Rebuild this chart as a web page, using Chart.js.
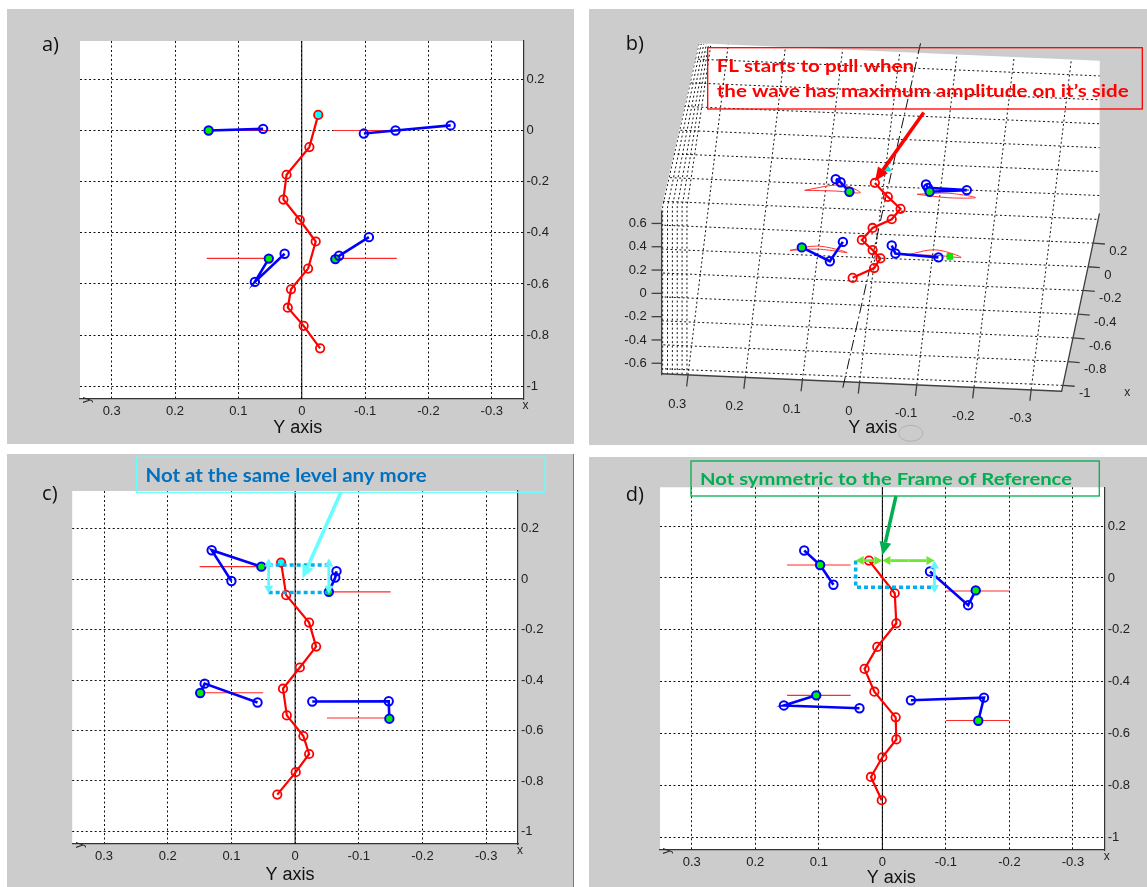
<!DOCTYPE html>
<html><head><meta charset="utf-8">
<script src="https://cdn.jsdelivr.net/npm/chart.js"></script>
<style>
html,body{margin:0;padding:0;background:#fff;width:1147px;height:887px;overflow:hidden;}
.panel{position:absolute;background:#cccccc;}
canvas{display:block;}
</style></head><body>
<div class="panel" style="left:7px;top:9px;width:567px;height:435px"><canvas id="ca"></canvas></div>
<div class="panel" style="left:589px;top:9px;width:558px;height:436px"><canvas id="cb"></canvas></div>
<div class="panel" style="left:7px;top:454px;width:567px;height:433px;box-shadow:inset -1px 0 0 #7a7a7a"><canvas id="cc"></canvas></div>
<div class="panel" style="left:589px;top:457px;width:558px;height:430px"><canvas id="cd"></canvas></div>
<script>
// ---------- shared tick values ----------
const LAT_TICKS = [0.3, 0.2, 0.1, 0, -0.1, -0.2, -0.3];     // horizontal "Y axis"
const LON_TICKS = [0.2, 0, -0.2, -0.4, -0.6, -0.8, -1];      // right-hand axis

// ---------- panel a : [lateral, longitudinal] ----------
const A_SPINE = [[-0.026,0.061],[-0.012,-0.065],[0.024,-0.173],[0.029,-0.270],[0.003,-0.350],[-0.022,-0.434],[-0.010,-0.540],[0.017,-0.621],[0.022,-0.693],[-0.003,-0.764],[-0.029,-0.852]];
const A_LEG_FL = [[0.147,0.000],[0.061,0.0065]];
const A_LEG_FR = [[-0.098,-0.012],[-0.148,0.000],[-0.235,0.020]];
const A_LEG_RL = [[0.052,-0.501],[0.074,-0.592],[0.027,-0.482]];
const A_LEG_RR = [[-0.053,-0.503],[-0.059,-0.490],[-0.106,-0.417]];
const A_GREEN = [0, -1, 0, 0];
const A_REFS = [[0.15,0.05,0],[-0.05,-0.15,0],[0.15,0.05,-0.5],[-0.05,-0.15,-0.5]];   // [from, to, level]

// ---------- panel c ----------
const C_SPINE = [[0.022,0.066],[0.014,-0.063],[-0.022,-0.172],[-0.033,-0.267],[-0.0075,-0.350],[0.019,-0.434],[0.013,-0.540],[-0.013,-0.622],[-0.022,-0.693],[-0.001,-0.765],[0.028,-0.854]];
const C_LEG_FL = [[0.053,0.050],[0.131,0.115],[0.100,-0.007]];
const C_LEG_FR = [[-0.053,-0.050],[-0.063,0.007],[-0.065,0.032]];
const C_LEG_RL = [[0.149,-0.451],[0.142,-0.414],[0.059,-0.489]];
const C_LEG_RR = [[-0.148,-0.553],[-0.147,-0.484],[-0.027,-0.485]];
const C_GREEN = [0, 0, 0, 0];
const C_REFS = [[0.15,0.05,0.05],[-0.05,-0.15,-0.05],[0.15,0.05,-0.45],[-0.05,-0.15,-0.55]];

// ---------- panel d ----------
const D_SPINE = [[0.021,0.067],[-0.0195,-0.059],[-0.022,-0.175],[0.008,-0.266],[0.028,-0.351],[0.0126,-0.439],[-0.021,-0.538],[-0.022,-0.623],[0.000,-0.692],[0.018,-0.768],[0.001,-0.858]];
const D_LEG_FL = [[0.123,0.106],[0.098,0.050],[0.077,-0.026]];
const D_LEG_FR = [[-0.075,0.025],[-0.135,-0.105],[-0.147,-0.048]];
const D_LEG_RL = [[0.104,-0.453],[0.155,-0.492],[0.036,-0.503]];
const D_LEG_RR = [[-0.045,-0.472],[-0.160,-0.462],[-0.151,-0.551]];
const D_GREEN = [1, 2, 0, 2];
const D_REFS = [[0.15,0.05,0.05],[-0.1,-0.2,-0.05],[0.15,0.05,-0.453],[-0.1,-0.2,-0.55]];

// ---------- panel b (3-D view, values in the view's own units) ----------
const B_LAT_TICKS = [0.3, 0.2, 0.1, 0, -0.1, -0.2, -0.3];
const B_LON_TICKS = [0.2, 0, -0.2, -0.4, -0.6, -0.8, -1];
const B_Z_TICKS = [0.6, 0.4, 0.2, 0, -0.2, -0.4, -0.6];
const B_FLOOR_ROWS = [-1, -0.8, -0.6, -0.4, -0.2, 0, 0.2, 0.4, 0.6, 0.8, 1.0, 1.2, 1.4, 1.6];
const B_SPINE = [[-0.0255,0.570],[-0.0482,0.453],[-0.0704,0.353],[-0.055,0.265],[-0.0215,0.192],[-0.0027,0.091],[-0.0215,0.0065],[-0.0352,-0.064],[-0.0243,-0.145],[0.0133,-0.227]];
const B_HEAD = [[-0.0455,0.692]];
const B_LEG_FL = [[0.0429,0.602],[0.0344,0.576],[0.0190,0.496]];
const B_LEG_FR = [[-0.1149,0.557],[-0.1183,0.529],[-0.1862,0.510],[-0.1212,0.496]];
const B_LEG_RL = [[0.1022,0.0286],[0.0532,-0.088],[0.0304,0.075]];
const B_LEG_RR = [[-0.055,0.045],[-0.0614,-0.0229],[-0.1366,-0.0555]];
const B_GREEN = [2, 3, 0, -1];
const B_PIVOT_RR = [[-0.1566,-0.0473]];
const B_ARC_FL = [[0.0971,0.508],[0.0685,0.535],[0.0429,0.552],[0.0207,0.540],[0.0002,0.488],[0.0429,0.502],[0.0971,0.508]];
const B_ARC_FR = [[-0.0995,0.475],[-0.1537,0.484],[-0.2015,0.447],[-0.1537,0.446],[-0.0995,0.475]];
const B_ARC_RL = [[0.1227,0.004],[0.0742,0.040],[0.0229,-0.015],[0.0742,0.014],[0.1227,0.004]];
const B_ARC_RR = [[-0.0797,-0.037],[-0.131,0.008],[-0.1764,-0.0555],[-0.131,-0.038],[-0.0797,-0.037]];

// ---------- helpers ----------
Chart.defaults.font.family = 'Liberation Sans';
const fmt = v => (Math.abs(v) < 1e-9 ? '0' : String(+Number(v).toFixed(1)));
const pts = a => a.map(p => ({x: p[0], y: p[1]}));
const CLEAR = 'rgba(0,0,0,0)';

function arrow(ctx, x1, y1, x2, y2, color, w, hl, hw) {
  const a = Math.atan2(y2 - y1, x2 - x1);
  const bx = x2 - hl * Math.cos(a), by = y2 - hl * Math.sin(a);
  ctx.save(); ctx.strokeStyle = color; ctx.fillStyle = color; ctx.lineWidth = w; ctx.setLineDash([]);
  ctx.beginPath(); ctx.moveTo(x1, y1); ctx.lineTo(bx, by); ctx.stroke();
  ctx.beginPath(); ctx.moveTo(x2, y2);
  ctx.lineTo(bx + hw / 2 * Math.sin(a), by - hw / 2 * Math.cos(a));
  ctx.lineTo(bx - hw / 2 * Math.sin(a), by + hw / 2 * Math.cos(a));
  ctx.closePath(); ctx.fill(); ctx.restore();
}
function dblArrow(ctx, x1, y1, x2, y2, color, w, hl, hw) {
  const mx = (x1 + x2) / 2, my = (y1 + y2) / 2;
  arrow(ctx, mx, my, x1, y1, color, w, hl, hw);
  arrow(ctx, mx, my, x2, y2, color, w, hl, hw);
}
function fitText(ctx, text, x, y, font, color, scale) {
  ctx.save(); ctx.font = font; ctx.fillStyle = color; ctx.textAlign = 'left'; ctx.textBaseline = 'alphabetic';
  ctx.translate(x, y); ctx.scale(scale, 1); ctx.fillText(text, 0, 0); ctx.restore();
}
function scaleFor(ctx, text, font, target) { ctx.save(); ctx.font = font; const w = ctx.measureText(text).width; ctx.restore(); return target / w; }
function panelLabel(ctx, t, x, y) {
  ctx.save(); ctx.font = '20px "Open Sans"'; ctx.fillStyle = '#111'; ctx.textAlign = 'center'; ctx.textBaseline = 'middle';
  ctx.fillText(t, x, y); ctx.restore();
}
function dotted(ctx, pts2, color, w, dash) {
  ctx.save(); ctx.strokeStyle = color; ctx.lineWidth = w; ctx.setLineDash(dash);
  ctx.beginPath(); pts2.forEach((p, i) => i ? ctx.lineTo(p[0], p[1]) : ctx.moveTo(p[0], p[1])); ctx.stroke(); ctx.restore();
}

// ---------- 2-D panels ----------
function make2D(id, W, H, area, spine, cyanIdx, legs, greens, refs, lab, titleDX, titleDY, annot) {
  const cv = document.getElementById(id); cv.width = W; cv.height = H;
  const ds = [];
  ds.push({data: pts(spine), showLine: true, borderColor: '#ff0000', borderWidth: 2.2, pointRadius: 4.2,
    pointBorderWidth: 1.8, pointBorderColor: '#ff0000',
    pointBackgroundColor: spine.map((p, i) => i === cyanIdx ? '#00ffff' : CLEAR)});
  legs.forEach((leg, k) => ds.push({data: pts(leg), showLine: true, borderColor: '#0000ff', borderWidth: 2.6,
    pointRadius: 4.2, pointBorderWidth: 2, pointBorderColor: '#0000ff',
    pointBackgroundColor: leg.map((p, i) => i === greens[k] ? '#00ee00' : CLEAR)}));
  refs.forEach(r => ds.push({data: [{x: r[0], y: r[2]}, {x: r[1], y: r[2]}], showLine: true,
    borderColor: '#ff2a2a', borderWidth: 1.1, pointRadius: 0}));
  new Chart(cv, {
    type: 'scatter', data: {datasets: ds},
    options: {
      responsive: false, animation: false, events: [],
      layout: {padding: {left: area.l, top: area.t, right: 0, bottom: 0}},
      plugins: {legend: {display: false}, tooltip: {enabled: false}},
      scales: {
        x: {type: 'linear', reverse: true, min: -0.35, max: 0.35,
          afterBuildTicks: s => { s.ticks = LAT_TICKS.map(v => ({value: v})); },
          afterFit: s => { s.height = H - area.b; },
          ticks: {callback: fmt, autoSkip: false, maxRotation: 0, padding: 5, color: '#222', font: {size: 13}},
          grid: {color: '#111', lineWidth: 1, drawTicks: false},
          border: {display: true, color: '#333', width: 1.2, dash: [2, 2.5]}},
        y: {type: 'linear', position: 'right', min: -1.05, max: 0.35,
          afterBuildTicks: s => { s.ticks = LON_TICKS.map(v => ({value: v})); },
          afterFit: s => { s.width = W - area.r; },
          ticks: {callback: fmt, autoSkip: false, padding: 3, color: '#222', font: {size: 13}},
          grid: {color: '#111', lineWidth: 1, drawTicks: false},
          border: {display: true, color: '#333', width: 1.2, dash: [2, 2.5]}}
      }
    },
    plugins: [{
      id: 'deco',
      beforeDraw(c) { const {ctx, chartArea: a} = c; ctx.save(); ctx.fillStyle = '#fff';
        ctx.fillRect(a.left, a.top, a.right - a.left, a.bottom - a.top); ctx.restore(); },
      beforeDatasetsDraw(c) { const {ctx, chartArea: a} = c; const x0 = c.scales.x.getPixelForValue(0);
        ctx.save(); ctx.strokeStyle = '#000'; ctx.lineWidth = 1; ctx.beginPath(); ctx.moveTo(x0, a.top); ctx.lineTo(x0, a.bottom); ctx.stroke(); ctx.restore(); },
      afterDraw(c) {
        const {ctx, chartArea: a} = c;
        panelLabel(ctx, lab.t, lab.x, lab.y);
        ctx.save(); ctx.fillStyle = '#111'; ctx.font = '18px "Liberation Sans"'; ctx.textAlign = 'center'; ctx.textBaseline = 'middle';
        ctx.fillText('Y axis', c.scales.x.getPixelForValue(0) + titleDX, a.bottom + titleDY);
        ctx.font = '12px "Liberation Sans"'; ctx.fillStyle = '#262626';
        ctx.fillText('x', a.right + 2, a.bottom + 6.5);
        ctx.translate(a.left + 7, a.bottom + 1); ctx.rotate(-Math.PI / 2); ctx.fillText('y', 0, 0);
        ctx.restore();
        if (annot) annot(c);
      }
    }]
  });
}

make2D('ca', 567, 435, {l: 73, t: 32, r: 516.5, b: 390}, A_SPINE, 0,
  [A_LEG_FL, A_LEG_FR, A_LEG_RL, A_LEG_RR], A_GREEN, A_REFS, {t: 'a)', x: 43.5, y: 36.5}, -4, 29.3, null);

make2D('cc', 567, 433, {l: 65.2, t: 37, r: 511, b: 390}, C_SPINE, 0,
  [C_LEG_FL, C_LEG_FR, C_LEG_RL, C_LEG_RR], C_GREEN, C_REFS, {t: 'c)', x: 42.8, y: 40.7}, -5, 31, c => {
    const {ctx} = c; const X = v => c.scales.x.getPixelForValue(v), Y = v => c.scales.y.getPixelForValue(v);
    const blue = 'rgb(0,176,240)', cyan = 'rgb(100,245,255)';
    dotted(ctx, [[X(0.0415), Y(0.057)], [X(-0.053), Y(0.057)]], blue, 3.5, [4, 3]);
    dotted(ctx, [[X(0.0415), Y(-0.053)], [X(-0.053), Y(-0.053)]], blue, 3.5, [4, 3]);
    dblArrow(ctx, X(0.0415), Y(0.082), X(0.0415), Y(-0.058), cyan, 2.8, 8, 9);
    dblArrow(ctx, X(-0.053), Y(0.082), X(-0.053), Y(-0.058), cyan, 2.8, 8, 9);
    ctx.save(); ctx.strokeStyle = 'rgb(102,255,255)'; ctx.lineWidth = 1.3; ctx.strokeRect(129.4, 3.3, 408.6, 35); ctx.restore();
    const f = 'bold 18.5px Lato', t = 'Not at the same level any more';
    fitText(ctx, t, 138.6, 27.7, f, 'rgb(0,112,192)', scaleFor(ctx, t, f, 281));
    arrow(ctx, 334, 38, 295.5, 124.3, 'rgb(102,255,255)', 3.5, 13, 12);
  });

make2D('cd', 558, 430, {l: 71, t: 30.3, r: 515.7, b: 393}, D_SPINE, -1,
  [D_LEG_FL, D_LEG_FR, D_LEG_RL, D_LEG_RR], D_GREEN, D_REFS, {t: 'd)', x: 45.8, y: 38}, 9, 28.3, c => {
    const {ctx} = c; const X = v => c.scales.x.getPixelForValue(v), Y = v => c.scales.y.getPixelForValue(v);
    const blue = 'rgb(0,176,240)', cyan = 'rgb(100,245,255)', lime = 'rgb(110,230,50)';
    dotted(ctx, [[X(0.042), Y(0.067)], [X(0.042), Y(-0.036)], [X(-0.082), Y(-0.036)]], blue, 3.5, [4, 3]);
    dblArrow(ctx, X(0.042), Y(0.067), X(0.0), Y(0.067), lime, 2.8, 8, 9);
    dblArrow(ctx, X(0.0), Y(0.067), X(-0.082), Y(0.067), lime, 2.8, 8, 9);
    dblArrow(ctx, X(-0.082), Y(0.067), X(-0.082), Y(-0.058), cyan, 2.8, 8, 9);
    ctx.save(); ctx.strokeStyle = '#00b050'; ctx.lineWidth = 1.3; ctx.strokeRect(102, 4, 408.3, 35); ctx.restore();
    const f = 'bold 17px Lato', t = 'Not symmetric to the Frame of Reference';
    fitText(ctx, t, 111, 28, f, '#00b050', scaleFor(ctx, t, f, 372));
    arrow(ctx, 307, 39, 293.5, 98, '#00b050', 3.5, 13, 12);
  });

// ---------- panel b ----------
(function () {
  const W = 558, H = 436;
  const cv = document.getElementById('cb'); cv.width = W; cv.height = H;
  const SHEAR_U = 0.0253, SHEAR_V = 0.2;
  const POLY = [[0.3472,-1.033],[0.3472,0.363],[0.2822,1.743],[-0.4186,1.596],[-0.4181,0.314],[-0.352,-1.18]];
  const STRIP_LOW = [0.3455, 0.337, 0.3285, 0.32, 0.3115, 0.303];
  const STRIP_TOP = [0.282, 0.278, 0.2735, 0.269, 0.265, 0.261];
  const ds = [];
  ds.push({data: pts(B_SPINE), showLine: true, borderColor: '#ff0000', borderWidth: 2.2, pointRadius: 4.2,
    pointBorderWidth: 1.8, pointBorderColor: '#ff0000', pointBackgroundColor: CLEAR});
  ds.push({data: pts(B_HEAD), showLine: false, pointStyle: 'triangle', pointRadius: 5, pointBackgroundColor: '#00f0f0', pointBorderColor: '#00c8c8', pointBorderWidth: 1});
  [B_LEG_FL, B_LEG_FR, B_LEG_RL, B_LEG_RR].forEach((leg, k) => ds.push({data: pts(leg), showLine: true,
    borderColor: '#0000ff', borderWidth: 2.6, pointRadius: 4.2, pointBorderWidth: 2, pointBorderColor: '#0000ff',
    pointBackgroundColor: leg.map((p, i) => i === B_GREEN[k] ? '#00ee00' : CLEAR)}));
  ds.push({data: pts(B_PIVOT_RR), showLine: false, pointStyle: 'rect', pointRadius: 4, pointBackgroundColor: '#00ee00', pointBorderColor: '#00dd00', pointBorderWidth: 1});
  [B_ARC_FL, B_ARC_FR, B_ARC_RL, B_ARC_RR].forEach(a => ds.push({data: pts(a), showLine: true, borderColor: '#ff3030', borderWidth: 1, pointRadius: 0, tension: 0.35}));

  new Chart(cv, {
    type: 'scatter', data: {datasets: ds},
    options: {
      responsive: false, animation: false, events: [],
      layout: {padding: 0},
      plugins: {legend: {display: false}, tooltip: {enabled: false}},
      scales: {x: {type: 'linear', display: false, reverse: true, min: -0.4904, max: 0.4634},
               y: {type: 'linear', display: false, min: -1.5796, max: 1.9796}}
    },
    plugins: [{
      id: 'view3d',
      beforeDatasetsDraw(c) {
        const ctx = c.ctx, xs = c.scales.x, ys = c.scales.y;
        const U = v => xs.getPixelForValue(v), V = v => ys.getPixelForValue(v);
        const P = (Yv, Xv) => [U(Yv - SHEAR_U * (Xv + 1)), V(Xv - SHEAR_V * (0.3 - Yv))];
        // white box face
        ctx.save(); ctx.beginPath(); POLY.forEach((p, i) => i ? ctx.lineTo(U(p[0]), V(p[1])) : ctx.moveTo(U(p[0]), V(p[1])));
        ctx.closePath(); ctx.fillStyle = '#fff'; ctx.fill(); ctx.clip();
        ctx.strokeStyle = '#111'; ctx.lineWidth = 1; ctx.setLineDash([2, 2.5]);
        B_FLOOR_ROWS.forEach(r => { const a = P(0.42, r), b = P(-0.42, r); ctx.beginPath(); ctx.moveTo(a[0], a[1]); ctx.lineTo(b[0], b[1]); ctx.stroke(); });
        B_LAT_TICKS.forEach(t => { const a = P(t, -1.045), b = P(t, 1.8); ctx.beginPath(); ctx.moveTo(a[0], a[1]); ctx.lineTo(b[0], b[1]); ctx.stroke(); });
        STRIP_LOW.forEach((u, k) => { ctx.beginPath(); ctx.moveTo(U(u), V(-1.04)); ctx.lineTo(U(u), V(0.37)); ctx.lineTo(U(STRIP_TOP[k]), V(1.74)); ctx.stroke(); });
        ctx.restore();
        // box edges / axes
        ctx.save(); ctx.strokeStyle = '#404040'; ctx.lineWidth = 1.3;
        ctx.beginPath(); ctx.moveTo(U(POLY[0][0]), V(POLY[0][1])); ctx.lineTo(U(POLY[5][0]), V(POLY[5][1])); ctx.lineTo(U(POLY[4][0]), V(POLY[4][1])); ctx.stroke();
        const zv = z => -0.3575 + 0.979 * z;
        ctx.beginPath(); ctx.moveTo(U(0.3472), V(zv(0.71))); ctx.lineTo(U(0.3472), V(zv(-0.703))); ctx.stroke();
        ctx.fillStyle = '#222'; ctx.font = '13px "Liberation Sans"';
        ctx.textAlign = 'right'; ctx.textBaseline = 'middle';
        B_Z_TICKS.forEach(z => { ctx.beginPath(); ctx.moveTo(U(0.3472), V(zv(z))); ctx.lineTo(U(0.3648), V(zv(z))); ctx.stroke();
          ctx.fillText(fmt(z), U(0.3733), V(zv(z))); });
        ctx.textAlign = 'left';
        B_LON_TICKS.forEach(x => { const u = -0.352 - 0.0441 * (x + 1.05), v = 0.996 * x - 0.134;
          ctx.beginPath(); ctx.moveTo(U(u), V(v)); ctx.lineTo(U(u - 0.0205), V(v - 0.008)); ctx.stroke();
          ctx.fillText(fmt(x), U(u - 0.028), V(v - 0.07)); });
        ctx.textAlign = 'center';
        B_LAT_TICKS.forEach(y => { const a = P(y, -1.045), b = P(y, -1.14);
          ctx.beginPath(); ctx.moveTo(a[0], a[1]); ctx.lineTo(b[0], b[1]); ctx.stroke();
          ctx.fillText(fmt(y), U(y + 0.0011 + 0.0188), V(-1.045 - SHEAR_V * (0.3 - y) - 0.245)); });
        // dash-dot reference line
        ctx.strokeStyle = '#111'; ctx.lineWidth = 1; ctx.setLineDash([11, 3, 2, 3]);
        ctx.beginPath(); ctx.moveTo(U(-0.1053), V(1.743)); ctx.lineTo(U(0.0314), V(-1.171)); ctx.stroke();
        ctx.restore();
      },
      afterDraw(c) {
        const ctx = c.ctx, xs = c.scales.x, ys = c.scales.y;
        const U = v => xs.getPixelForValue(v), V = v => ys.getPixelForValue(v);
        panelLabel(ctx, 'b)', 45.8, 35);
        ctx.save(); ctx.fillStyle = '#111'; ctx.font = '18px "Liberation Sans"'; ctx.textAlign = 'center'; ctx.textBaseline = 'middle';
        ctx.fillText('Y axis', 283.7, 419.3);
        ctx.font = '12px "Liberation Sans"'; ctx.fillStyle = '#262626'; ctx.fillText('x', 538.3, 383.7);
        ctx.strokeStyle = 'rgba(160,160,160,0.6)'; ctx.lineWidth = 1; ctx.beginPath(); ctx.ellipse(321.7, 424.3, 12, 8, 0, 0, 2 * Math.PI); ctx.stroke();
        ctx.strokeStyle = '#ff0000'; ctx.lineWidth = 1.3; ctx.strokeRect(118.7, 38.7, 434.6, 61.3);
        ctx.restore();
        const f = 'bold 16.5px Lato', l1 = 'FL starts to pull when', l2 = 'the wave has maximum amplitude on it\u2019s side';
        const s = scaleFor(ctx, l2, f, 412);
        fitText(ctx, l1, 127.7, 62.5, f, '#ff0000', s);
        fitText(ctx, l2, 127.7, 88.3, f, '#ff0000', s);
        arrow(ctx, U(-0.111), V(1.163), U(-0.0255), V(0.584), '#ff0000', 3.5, 14, 12);
      }
    }]
  });
})();
</script>
</body></html>
